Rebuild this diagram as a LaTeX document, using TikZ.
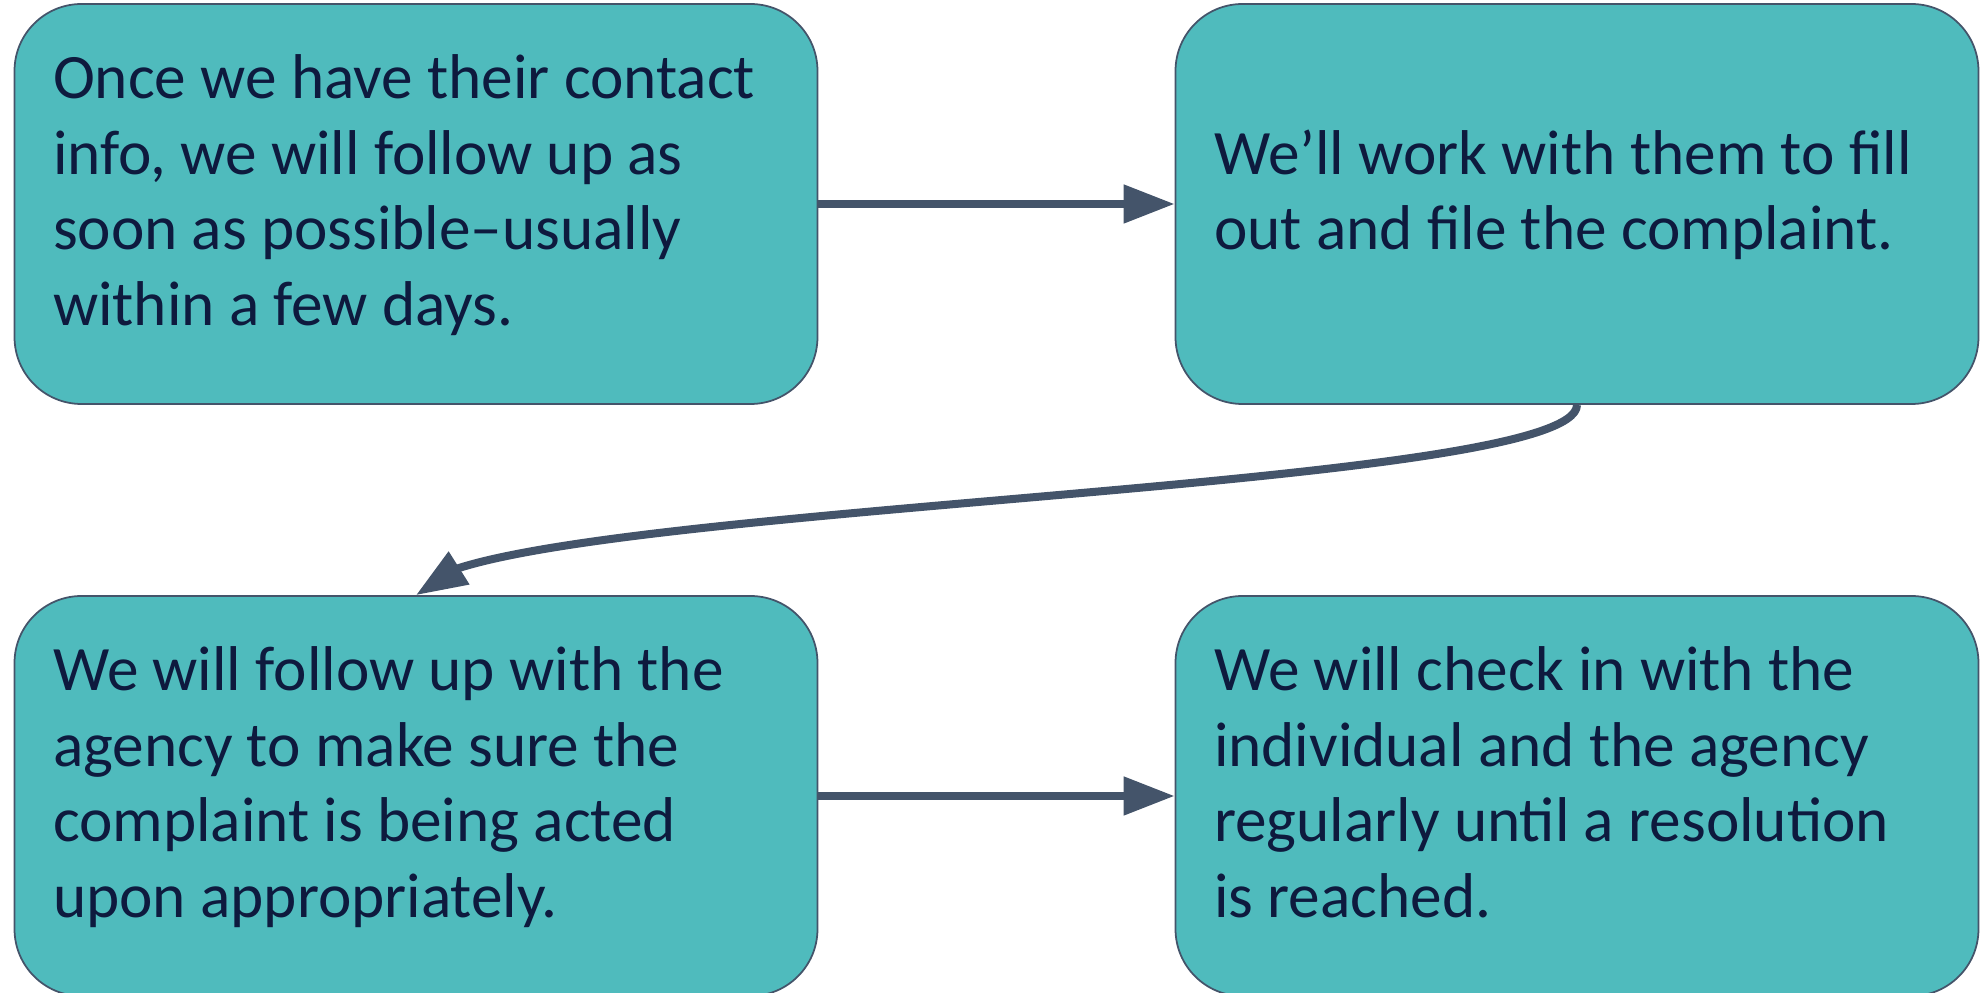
\documentclass[tikz,border=0pt]{standalone}
\usepackage{fontspec}
\setmainfont{Carlito}
\usetikzlibrary{arrows.meta}
\definecolor{boxfill}{HTML}{4FBBBD}
\definecolor{slate}{HTML}{44546A}
\definecolor{ink}{HTML}{0E1A3E}
\tikzset{
  stepbox/.style={draw=slate, line width=0.5pt, fill=boxfill, rounded corners=6.7mm,
    minimum width=80.3mm, minimum height=40mm, inner xsep=3.85mm, text width=72.6mm,
    align=flush left, text=ink, font=\fontsize{18pt}{21.5pt}\selectfont,
    execute at begin node=\rule{0pt}{5mm}, execute at end node=\rule[-3.4mm]{0pt}{0pt}},
  flow/.style={draw=slate, line width=0.8mm, line join=round, -{Triangle[length=5.1mm,width=3.7mm]}}
}
\begin{document}
\begin{tikzpicture}[x=0.1mm, y=-0.1mm]

    \useasboundingbox (0,0) rectangle (1980,993);
    % the four steps
    \node[stepbox] (b1) at (416,204) {Once we have their contact\\ info, we will follow up as\\ soon as possible–usually\\ within a few days.};
    \node[stepbox] (b2) at (1577,204) {We’ll work with them to fill\\ out and file the complaint.};
    \node[stepbox] (b3) at (416,796) {We will follow up with the\\ agency to make sure the\\ complaint is being acted\\ upon appropriately.};
    \node[stepbox] (b4) at (1577,796) {We will check in with the\\ individual and the agency\\ regularly until a resolution\\ is reached.};

    % connectors
    \coordinate (tipback) at (459,568); % where the curve meets the arrow head
    \draw[flow] (b1.east) -- (b2.west);
    \draw[flow] (b2.south) .. controls +(0,80) and +(209,-66) .. (tipback) -- (b3.north);
    \draw[flow] (b3.east) -- (b4.west);
  \end{tikzpicture}
\end{document}
